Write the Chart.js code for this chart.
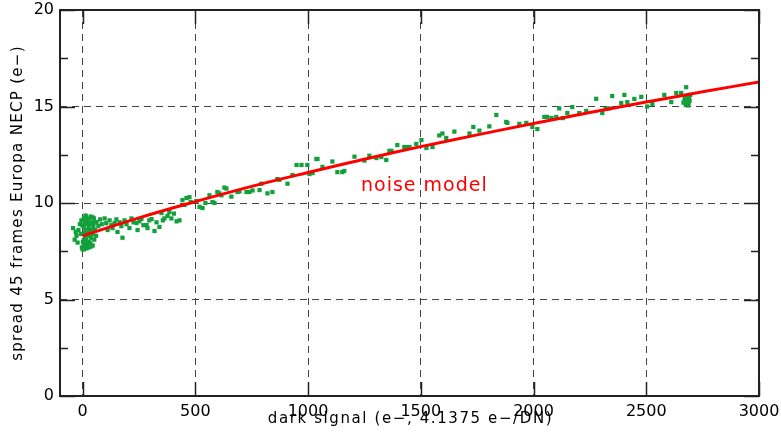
<!DOCTYPE html>
<html>
<head>
<meta charset="utf-8">
<script src="https://cdn.jsdelivr.net/npm/chart.js@4"></script>
<style>
  html, body { margin: 0; padding: 0; background: #fff; }
  #wrap { width: 781px; height: 441px; position: relative; }
</style>
</head>
<body>
<div id="wrap"><canvas id="noiseChart"></canvas></div>
<script>
// ---------- data ----------
const darkSignal = [
  -42, -35, -30, -27, -22, -18, -12, -8, -5, -3, -1, 0, 2, 3, 4, 5, 6, 7, 8, 10, 10, 12, 13, 14, 15, 16, 18, 18, 20, 20,
  22, 24, 25, 26, 27, 28, 29, 30, 31, 33, 34, 35, 36, 38, 39, 40, 42, 44, 45, 46, 48, 50, 52, 55, 58, 60,
  62, 70, 78, 85, 98, 105, 111, 120, 128, 133, 142, 150, 155, 164, 172, 177, 186, 195, 208, 217, 226, 239, 244, 252,
  261, 270, 284, 288, 296, 306, 319, 328, 341, 350, 356, 363, 377, 385, 394, 405, 417, 430, 443, 452, 461, 474, 480,
  505, 519, 532, 545, 563, 576, 585, 598, 607, 616, 629, 638, 660, 687, 696, 727, 740, 754, 785, 793, 820, 842, 864,
  873, 909, 931, 949, 971, 997, 1006,
  1020, 1037, 1042, 1064, 1108, 1130, 1152, 1161, 1206, 1250, 1272, 1303, 1325, 1347, 1361, 1370, 1396, 1427, 1441,
  1450, 1480, 1503, 1525, 1552,
  1582, 1596, 1613, 1649, 1716, 1733, 1760, 1804, 1835, 1879, 1884, 1937, 1968, 1995,
  2017, 2048, 2061, 2080, 2101, 2114, 2130, 2150, 2172, 2203, 2234, 2278, 2305, 2320, 2336, 2349, 2389, 2403, 2416,
  2447, 2478, 2504, 2527, 2580, 2611, 2633, 2655, 2665, 2670, 2672, 2675, 2677, 2680, 2683, 2684, 2686, 2688, 2690,
  2692, 2695
];
const spread = [
  8.7, 8.1, 8.5, 8.3, 7.95, 8.6, 8.9, 8.4, 9.1, 7.7, 8.85, 7.6, 8.0, 8.4, 7.95, 8.8, 9.2, 7.6, 7.8, 8.2, 9.0, 8.6, 9.35, 7.7, 9.3, 8.1, 8.9, 7.65, 7.9, 8.45,
  9.1, 8.3, 7.8, 8.95, 8.7, 9.2, 7.7, 8.0, 8.5, 8.9, 8.35, 7.9, 9.3, 8.2, 7.75, 8.6, 9.0, 8.4, 7.8, 9.25, 8.8, 9.2, 8.1, 8.6, 9.0, 8.3,
  9.0, 8.8, 9.15, 8.9, 9.2, 8.95, 8.6, 9.1, 8.85, 8.7, 8.96, 9.15, 8.5, 9.0, 8.8, 8.2, 9.1, 8.9, 8.7, 9.2, 9.0, 8.96, 8.6, 9.05,
  9.17, 8.85, 8.86, 8.7, 9.1, 9.17, 8.55, 9.0, 8.76, 9.48, 9.1, 9.2, 9.33, 9.53, 9.2, 9.45, 9.05, 9.1, 10.15, 9.9, 10.26, 10.3, 10.05,
  10.1, 9.8, 9.74, 10.0, 10.4, 10.05, 10.0, 10.57, 10.5, 10.4, 10.8, 10.75, 10.33, 10.57, 10.6, 10.57, 10.57, 10.65, 10.67, 11.0, 10.5, 10.57, 11.24,
  11.2, 11.0, 11.45, 11.97, 11.97, 11.97, 11.5,
  11.55, 12.28, 12.28, 11.87, 12.15, 11.6, 11.6, 11.66, 12.4, 12.2, 12.45, 12.33, 12.38, 12.23, 12.7, 12.7, 13.0, 12.9, 12.9,
  12.9, 13.06, 13.26, 12.85, 12.9,
  13.5, 13.6, 13.37, 13.7, 13.6, 13.94, 13.75, 13.97, 14.56, 14.2, 14.15, 14.1, 14.15, 13.94,
  13.83, 14.46, 14.46, 14.4, 14.46, 14.9, 14.4, 14.66, 14.97, 14.66, 14.77, 15.4, 14.66, 14.87, 14.9, 15.54, 15.18, 15.6, 15.23,
  15.39, 15.5, 15.0, 15.13, 15.6, 15.23, 15.7, 15.7, 15.2, 15.35, 15.5, 15.1, 16.0, 15.45, 15.25, 15.05, 15.55, 15.15, 15.4,
  15.3, 15.6
];

const modelSignal = [0, 250, 500, 750, 1000, 1250, 1500, 1750, 2000, 2250, 2500, 2750, 3000];
const modelNoise  = [8.3, 9.23, 10.07, 10.86, 11.58, 12.27, 12.92, 13.53, 14.12, 14.69, 15.23, 15.76, 16.27];

const xTicks = [0, 500, 1000, 1500, 2000, 2500, 3000];
const yTicks = [0, 2.5, 5, 7.5, 10, 12.5, 15, 17.5, 20];
const yMajor = [0, 5, 10, 15, 20];

const xTitle = "dark signal (e\u2212, 4.1375 e\u2212/DN)";
const yTitle = "spread 45 frames Europa NECP (e\u2212)";

// ---------- look ----------
const FONT = "'DejaVu Sans', sans-serif";
const GREEN = "#12a03c";
const RED = "#ff0000";
const FRAME = "#222222";
const GRID = "#444444";

// frame, inward tick marks, axis titles and the "noise model" label
const framePlugin = {
    id: "frame",
    beforeDraw(chart) {
        chart.ctx.letterSpacing = "0px";
    },
    afterDatasetsDraw(chart) {
        const { ctx, chartArea: a, scales: { x, y } } = chart;
        ctx.save();
        ctx.strokeStyle = FRAME;
        ctx.lineWidth = 2;
        ctx.strokeRect(a.left, a.top, a.right - a.left, a.bottom - a.top);

        ctx.lineWidth = 1.5;
        ctx.beginPath();
        xTicks.forEach(v => {
            const px = Math.round(x.getPixelForValue(v)) + 0.5;
            ctx.moveTo(px, a.bottom); ctx.lineTo(px, a.bottom - 14);
            ctx.moveTo(px, a.top); ctx.lineTo(px, a.top + 14);
        });
        yTicks.forEach(v => {
            const len = yMajor.includes(v) ? 15 : 8;
            const py = Math.round(y.getPixelForValue(v)) + 0.5;
            ctx.moveTo(a.left, py); ctx.lineTo(a.left + len, py);
            ctx.moveTo(a.right, py); ctx.lineTo(a.right - len, py);
        });
        ctx.stroke();

        ctx.textAlign = "center";
        ctx.textBaseline = "alphabetic";
        ctx.letterSpacing = "1.6px";
        ctx.fillStyle = "#000";
        ctx.font = "15px " + FONT;
        ctx.fillText(xTitle, (a.left + a.right) / 2 + 1, 423);

        ctx.save();
        ctx.letterSpacing = "1.3px";
        ctx.translate(22, (a.top + a.bottom) / 2);
        ctx.rotate(-Math.PI / 2);
        ctx.fillText(yTitle, 0, 0);
        ctx.restore();

        ctx.letterSpacing = "1px";
        ctx.fillStyle = RED;
        ctx.font = "19px " + FONT;
        ctx.textBaseline = "middle";
        ctx.fillText("noise model", x.getPixelForValue(1516), y.getPixelForValue(10.9));
        ctx.letterSpacing = "0px";
        ctx.restore();
    }
};

new Chart(document.getElementById("noiseChart"), {
    type: "scatter",
    data: {
        datasets: [
            {
                type: "line",
                label: "noise model",
                data: modelSignal.map((v, i) => ({ x: v, y: modelNoise[i] })),
                borderColor: RED,
                borderWidth: 3,
                pointRadius: 0,
                tension: 0.4,
                order: 0
            },
            {
                label: "spread",
                data: darkSignal.map((v, i) => ({ x: v, y: spread[i] })),
                backgroundColor: GREEN,
                borderWidth: 0,
                pointStyle: "rect",
                pointRadius: 3,
                order: 1
            }
        ]
    },
    options: {
        responsive: true,
        maintainAspectRatio: false,
        animation: false,
        layout: { padding: { top: 10, right: 22, left: 0, bottom: 0 } },
        plugins: { legend: { display: false }, tooltip: { enabled: false } },
        scales: {
            x: {
                type: "linear",
                min: -100,
                max: 3000,
                afterBuildTicks: s => { s.ticks = xTicks.map(v => ({ value: v })); },
                afterFit: s => { s.height = 45; s.paddingLeft = 0; s.paddingRight = 0; },
                grid: {
                    color: GRID,
                    lineWidth: 1,
                    drawTicks: false
                },
                border: { display: false, dash: [7, 5] },
                ticks: {
                    color: "#000",
                    font: { family: FONT, size: 16 },
                    padding: 6,
                    maxRotation: 0,
                    callback: v => String(v)
                }
            },
            y: {
                type: "linear",
                min: 0,
                max: 20,
                afterBuildTicks: s => { s.ticks = yTicks.map(v => ({ value: v })); },
                afterFit: s => { s.width = 60; s.paddingTop = 0; s.paddingBottom = 0; },
                grid: {
                    color: c => yMajor.includes(c.tick.value) ? GRID : "rgba(0,0,0,0)",
                    lineWidth: 1,
                    drawTicks: false
                },
                border: { display: false, dash: [7, 5] },
                ticks: {
                    color: "#000",
                    font: { family: FONT, size: 16 },
                    padding: 6,
                    callback: v => yMajor.includes(v) ? String(v) : ""
                }
            }
        }
    },
    plugins: [framePlugin]
});
</script>
</body>
</html>
